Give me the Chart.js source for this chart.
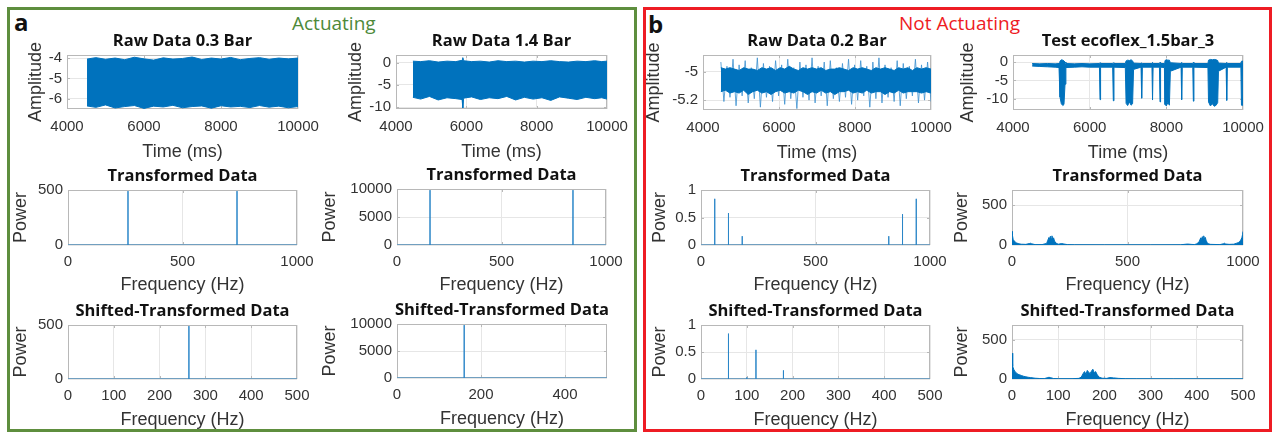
<!DOCTYPE html>
<html><head><meta charset="utf-8">
<script src="https://cdn.jsdelivr.net/npm/chart.js@4.4.1/dist/chart.umd.min.js"></script>
<style>
html,body{margin:0;padding:0;background:#fff;}
body{width:1277px;height:434px;position:relative;overflow:hidden;}
.panel{position:absolute;box-sizing:border-box;}
#pa{left:7px;top:7px;width:630px;height:425px;border:3px solid #5e8e3e;}
#pb{left:643px;top:7px;width:629px;height:425px;border:3px solid #ee1c24;}
.lbl{position:absolute;font-family:"Open Sans",sans-serif;line-height:1;white-space:nowrap;}
canvas.cv{position:absolute;}
</style></head>
<body>
<div class="panel" id="pa"></div>
<div class="panel" id="pb"></div>
<div class="lbl" style="left:14px;top:10px;font-size:24px;font-weight:700;color:#111;">a</div>
<div class="lbl" style="left:648px;top:12px;font-size:24px;font-weight:700;color:#111;">b</div>
<div class="lbl" style="left:292px;top:14px;font-size:19px;color:#4e8a3a;">Actuating</div>
<div class="lbl" style="left:899px;top:14px;font-size:19px;color:#ee1c24;">Not Actuating</div>
<script>
// ---------- data ----------
const rawTimeTicks = [4000, 6000, 8000, 10000];

const raw03Time  = [4520,4750,5000,5250,5500,5750,6000,6250,6500,6750,7000,7250,7500,7750,8000,8250,8500,8750,9000,9250,9500,9750,10000];
const raw03Upper = [-4.05,-3.98,-4.06,-4.0,-4.08,-3.96,-4.04,-4.1,-3.99,-4.05,-4.02,-3.95,-4.07,-4.0,-4.05,-3.97,-4.08,-4.02,-3.98,-4.06,-4.0,-4.04,-4.0];
const raw03Lower = [-6.35,-6.42,-6.3,-6.45,-6.38,-6.33,-6.47,-6.36,-6.4,-6.32,-6.44,-6.38,-6.35,-6.46,-6.34,-6.4,-6.37,-6.43,-6.33,-6.41,-6.36,-6.44,-6.38];
const raw03YTicks = [-6, -5, -4];

const raw14Time  = [4480,4700,4950,5200,5450,5700,5880,5900,5920,6150,6400,6650,6900,7150,7400,7650,7900,8150,8400,8650,8900,9150,9400,9650,9850,10000];
const raw14Upper = [0.4,0.3,0.5,0.2,0.4,0.3,0.6,1.2,0.5,0.3,0.4,0.2,0.5,0.3,0.4,0.2,0.4,0.3,0.5,0.3,0.2,0.4,0.3,0.5,0.3,0.4];
const raw14Lower = [-7.8,-8.2,-7.6,-8.4,-7.9,-8.1,-8.3,-10.2,-8.0,-7.7,-8.3,-7.9,-8.1,-7.6,-8.4,-7.8,-8.2,-7.9,-8.5,-7.7,-8.0,-8.3,-7.8,-8.1,-7.9,-8.2];
const raw14YTicks = [-10, -5, 0];

// 0.2 Bar: dense core band plus the noisy excursions around it
const raw02Time  = [4470,4590,4710,4830,4950,5070,5190,5310,5430,5550,5670,5790,5910,6030,6150,6270,6390,6510,6630,6750,6870,6990,7110,7230,7350,7470,7590,7710,7830,7950,8070,8190,8310,8430,8550,8670,8790,8910,9030,9150,9270,9390,9510,9630,9750,9870,10000];
const raw02CoreUpper = [-4.97,-4.98,-4.97,-4.98,-4.99,-4.97,-4.98,-4.98,-4.99,-4.97,-4.98,-4.97,-4.99,-4.97,-4.98,-4.96,-4.98,-4.99,-4.97,-4.98,-4.97,-4.98,-4.97,-4.99,-4.98,-4.98,-4.97,-4.98,-4.99,-4.97,-4.98,-4.97,-4.98,-4.99,-4.97,-4.98,-4.97,-4.98,-4.99,-4.97,-4.98,-4.97,-4.99,-4.97,-4.98,-4.97,-4.98];
const raw02CoreLower = [-5.14,-5.13,-5.15,-5.14,-5.15,-5.13,-5.16,-5.14,-5.13,-5.15,-5.14,-5.16,-5.14,-5.13,-5.15,-5.14,-5.15,-5.13,-5.14,-5.16,-5.14,-5.15,-5.13,-5.15,-5.14,-5.16,-5.14,-5.14,-5.13,-5.15,-5.14,-5.15,-5.13,-5.15,-5.14,-5.14,-5.16,-5.14,-5.15,-5.13,-5.15,-5.14,-5.14,-5.14,-5.15,-5.14,-5.15];
const raw02NoiseTime = [4470,4550,4630,4710,4790,4870,4950,5030,5110,5190,5270,5350,5430,5510,5590,5670,5750,5830,5910,5990,6070,6150,6230,6310,6390,6470,6550,6630,6710,6790,6870,6950,7030,7110,7190,7270,7350,7430,7510,7590,7670,7750,7830,7910,7990,8070,8150,8230,8310,8390,8470,8550,8630,8710,8790,8870,8950,9030,9110,9190,9270,9350,9430,9510,9590,9670,9750,9830,9910,10000];
const raw02Noise = [-4.93,-5.21,-4.96,-5.18,-4.91,-5.24,-4.95,-5.17,-4.92,-5.22,-4.97,-5.19,-4.90,-5.25,-4.94,-5.18,-4.96,-5.21,-4.92,-5.17,-4.95,-5.23,-4.91,-5.19,-4.97,-5.26,-4.93,-5.18,-4.95,-5.20,-4.90,-5.22,-4.96,-5.17,-4.93,-5.24,-4.92,-5.19,-4.97,-5.21,-4.94,-5.18,-4.91,-5.23,-4.95,-5.20,-4.92,-5.17,-4.96,-5.25,-4.93,-5.19,-4.90,-5.22,-4.95,-5.18,-4.97,-5.21,-4.92,-5.24,-4.94,-5.19,-4.96,-5.17,-4.91,-5.22,-4.95,-5.20,-4.93,-5.21];
const raw02YTicks = [-5.2, -5];

const ecoTime  = [4500,4700,4900,5100,5200,5226,5260,5300,5330,5357,5380,5600,5800,6000,6255,6270,6285,6600,6617,6634,6930,6950,6990,7040,7080,7120,7145,7340,7357,7374,7625,7640,7655,7820,7835,7850,7950,7965,8000,8040,8080,8105,8385,8400,8415,8690,8705,8720,9085,9100,9150,9200,9250,9300,9340,9360,9560,9575,9590,9945,9960,9985,10000];
const ecoUpper = [-0.4,-0.5,-0.4,-0.5,-0.4,0.2,0.6,0.5,0.3,0.0,-0.4,-0.5,-0.4,-0.5,-0.4,-0.2,-0.4,-0.4,-0.2,-0.4,-0.4,0.3,0.5,0.4,0.6,0.3,-0.3,-0.4,-0.2,-0.4,-0.4,-0.1,-0.4,-0.4,-0.1,-0.4,-0.4,0.4,0.6,0.5,0.5,-0.2,-0.4,-0.1,-0.4,-0.4,-0.1,-0.4,-0.4,0.5,0.7,0.6,0.7,0.6,0.4,-0.3,-0.4,-0.1,-0.4,-0.4,0.2,0.3,-0.4];
const ecoLower = [-1.1,-1.2,-1.3,-1.4,-1.5,-9.5,-11.3,-11.8,-11.5,-6,-1.5,-1.4,-1.3,-1.4,-1.4,-10.2,-1.4,-1.4,-10.5,-1.4,-1.5,-11.2,-11.8,-10.8,-11.7,-11.3,-2.0,-1.4,-9.8,-1.4,-1.4,-10.3,-1.4,-1.4,-10.8,-1.4,-1.5,-11.5,-11.9,-11.0,-11.7,-2.5,-1.4,-10.2,-1.4,-1.4,-10.6,-1.4,-1.5,-10.8,-11.9,-11.3,-12.0,-11.7,-11.0,-2.5,-1.4,-10.4,-1.4,-1.4,-11.7,-11.8,-1.5];
const ecoYTicks = [-10, -5, 0];

const fft1000Ticks = [0, 500, 1000];
const fft500Ticks  = [0, 100, 200, 300, 400, 500];
const fft500TicksB = [0, 200, 400];

const tr03Freq = [262, 738];          const tr03Pow = [490, 490];
const tr14Freq = [158, 842];          const tr14Pow = [9800, 9800];
const tr02Freq = [60, 120, 180, 820, 880, 940];
const tr02Pow  = [0.84, 0.58, 0.16, 0.16, 0.56, 0.84];
const tr15Freq = [0,2,5,10,15,20,30,40,60,75,80,85,100,130,150,155,160,163,166,170,173,176,180,184,190,200,215,225,240,270,400,600,730,760,775,790,800,810,817,820,824,827,830,834,837,840,845,850,860,900,915,920,925,940,960,970,980,985,990,995,998,1000];
const tr15Pow  = [170,120,70,50,35,25,15,10,8,18,22,15,5,5,20,60,95,70,110,80,115,75,90,50,25,10,18,12,5,3,2,2,3,12,8,5,15,40,90,70,105,80,115,70,95,60,30,15,8,5,15,22,12,8,10,20,30,45,60,90,130,170];

const sh03Freq = [264];   const sh03Pow = [490];
const sh14Freq = [160];   const sh14Pow = [9800];
const sh02Freq = [60, 100, 120, 180];
const sh02Pow  = [0.84, 0.03, 0.54, 0.16];
const sh15Freq = [0,1,2,4,6,8,10,13,16,20,25,30,35,40,50,60,70,76,80,84,90,100,130,145,150,154,157,160,163,166,169,172,175,178,181,184,188,195,205,212,220,230,245,270,350,500];
const sh15Pow  = [330,240,160,120,100,85,75,60,55,45,35,28,22,18,10,6,5,15,22,16,6,4,4,8,25,70,95,60,110,85,70,100,125,80,95,60,25,10,8,18,14,8,4,3,2,2];

const yTicks500 = [0, 500];
const yTicks10k = [0, 5000, 10000];
const yTicks1   = [0, 0.5, 1];

// ---------- helpers ----------
const BLUE = '#0072BD', SPIKE = '#2b86c8', NOISE = '#3a8fcf';
const TXT = '#333333', GRID = '#e6e6e6', BOX = '#b8b8b8';
const xy = (xs, ys) => xs.map((x, i) => ({x, y: ys[i]}));
function spikeLine(freqs, pows, x0, x1) {
  const pts = [{x: x0, y: 0}];
  freqs.forEach((f, i) => { pts.push({x: f, y: 0}, {x: f, y: pows[i]}, {x: f, y: 0}); });
  pts.push({x: x1, y: 0});
  return pts;
}
function band(t, up, lo, color) {
  return [
    {data: xy(t, up), borderColor: color, borderWidth: 1, fill: false},
    {data: xy(t, lo), borderColor: color, borderWidth: 1, backgroundColor: color, fill: '-1'}
  ];
}

const boxPlugin = {
  id: 'matbox',
  beforeDatasetsDraw(ch) {
    const {ctx, chartArea: a, scales} = ch;
    ctx.save();
    ctx.strokeStyle = BOX; ctx.lineWidth = 1;
    ctx.strokeRect(a.left + 0.5, a.top + 0.5, a.width - 1, a.height - 1);
    ctx.beginPath();
    scales.x.ticks.forEach(tk => {
      const px = Math.round(scales.x.getPixelForValue(tk.value)) + 0.5;
      if (px <= a.left + 1 || px >= a.right - 1) return;
      ctx.moveTo(px, a.bottom); ctx.lineTo(px, a.bottom - 3);
      ctx.moveTo(px, a.top); ctx.lineTo(px, a.top + 3);
    });
    scales.y.ticks.forEach(tk => {
      const py = Math.round(scales.y.getPixelForValue(tk.value)) + 0.5;
      if (py <= a.top + 1 || py >= a.bottom - 1) return;
      ctx.moveTo(a.left, py); ctx.lineTo(a.left + 3, py);
      ctx.moveTo(a.right, py); ctx.lineTo(a.right - 3, py);
    });
    ctx.stroke();
    ctx.restore();
  },
  afterDraw(ch) {
    const {ctx, chartArea: a} = ch;
    const t = ch.options.plugins.matbox.title;
    ctx.save();
    ctx.font = 'bold 16.5px "Open Sans"';
    ctx.fillStyle = '#111';
    ctx.textAlign = 'center'; ctx.textBaseline = 'middle';
    ctx.fillText(t, (a.left + a.right) / 2, a.top - 14);
    ctx.restore();
  }
};

function mk(s) {
  const PL = 80, PT = 30, PR = 34, PB = 52;
  const [l, t, r, b] = s.rect;
  const c = document.createElement('canvas');
  c.className = 'cv';
  c.width = r - l + PL + PR; c.height = b - t + PT + PB;
  c.style.left = (l - PL) + 'px'; c.style.top = (t - PT) + 'px';
  document.body.appendChild(c);
  new Chart(c, {
    type: 'line',
    data: {datasets: s.datasets},
    options: {
      responsive: false, animation: false, devicePixelRatio: 1, events: [],
      layout: {padding: {left: 0, top: PT, right: PR, bottom: 0}},
      plugins: {legend: {display: false}, tooltip: {enabled: false}, title: {display: false},
                matbox: {title: s.title}},
      elements: {point: {radius: 0}, line: {tension: 0}},
      scales: {
        x: {
          type: 'linear', min: s.xmin, max: s.xmax,
          afterFit(sc) { sc.height = PB; sc.paddingLeft = 0; sc.paddingRight = 0; },
          afterBuildTicks(sc) { sc.ticks = s.xticks.map(v => ({value: v})); },
          grid: {color: GRID, drawTicks: false}, border: {display: false},
          ticks: {padding: s.xtp || 8, font: {family: 'Liberation Sans', size: 15}, color: TXT,
                  maxRotation: 0, autoSkip: false, callback: v => String(v)},
          title: {display: true, text: s.xlabel, color: TXT,
                  font: {family: 'Liberation Sans', size: 18}, padding: {top: 0, bottom: s.xlp}}
        },
        y: {
          type: 'linear', min: s.ymin, max: s.ymax,
          afterFit(sc) { sc.width = PL; sc.paddingTop = 0; sc.paddingBottom = 0; },
          afterBuildTicks(sc) { sc.ticks = s.yticks.map(v => ({value: v})); },
          grid: {color: GRID, drawTicks: false}, border: {display: false},
          ticks: {padding: 5, font: {family: 'Liberation Sans', size: 15}, color: TXT,
                  autoSkip: false, callback: v => String(v)},
          title: {display: true, text: s.ylabel, color: TXT,
                  font: {family: 'Liberation Sans', size: 18}, padding: {top: 69.2 - s.yd, bottom: 0}}
        }
      }
    },
    plugins: [boxPlugin]
  });
}

const thin = pts => ({data: pts, borderColor: SPIKE, borderWidth: 1, fill: false});
const area = pts => ({data: pts, borderColor: BLUE, borderWidth: 1, backgroundColor: BLUE, fill: 'origin'});

// Row 1: raw data
mk({title: 'Raw Data 0.3 Bar', rect: [67, 55, 298, 109], xmin: 4000, xmax: 10000, xticks: rawTimeTicks, xtp: 9, xlp: -1.5,
    ymin: -6.5, ymax: -3.85, yticks: raw03YTicks, xlabel: 'Time (ms)', ylabel: 'Amplitude', yd: 31,
    datasets: band(raw03Time, raw03Upper, raw03Lower, BLUE)});
mk({title: 'Raw Data 1.4 Bar', rect: [396, 55, 607, 109], xmin: 4000, xmax: 10000, xticks: rawTimeTicks, xtp: 9, xlp: -1.5,
    ymin: -10.45, ymax: 1.8, yticks: raw14YTicks, xlabel: 'Time (ms)', ylabel: 'Amplitude', yd: 40,
    datasets: band(raw14Time, raw14Upper, raw14Lower, BLUE)});
mk({title: 'Raw Data 0.2 Bar', rect: [703, 55, 931, 110], xmin: 4000, xmax: 10000, xticks: rawTimeTicks, xtp: 9, xlp: -1.5,
    ymin: -5.27, ymax: -4.88, yticks: raw02YTicks, xlabel: 'Time (ms)', ylabel: 'Amplitude', yd: 49,
    datasets: band(raw02Time, raw02CoreUpper, raw02CoreLower, BLUE)
      .concat([{data: xy(raw02NoiseTime, raw02Noise), borderColor: NOISE, borderWidth: 0.8, fill: false}])});
mk({title: 'Test ecoflex_1.5bar_3', rect: [1013, 55, 1243, 110], xmin: 4000, xmax: 10000, xticks: rawTimeTicks, xtp: 9, xlp: -1.5,
    ymin: -13, ymax: 1.9, yticks: ecoYTicks, xlabel: 'Time (ms)', ylabel: 'Amplitude', yd: 45,
    datasets: band(ecoTime, ecoUpper, ecoLower, BLUE)});

// Row 2: transformed
mk({title: 'Transformed Data', rect: [68, 190, 297, 245], xmin: 0, xmax: 1000, xticks: fft1000Ticks, xlp: 1,
    ymin: 0, ymax: 500, yticks: yTicks500, xlabel: 'Frequency (Hz)', ylabel: 'Power', yd: 47,
    datasets: [thin(spikeLine(tr03Freq, tr03Pow, 0, 1000))]});
mk({title: 'Transformed Data', rect: [397, 189, 606, 245], xmin: 0, xmax: 1000, xticks: fft1000Ticks, xlp: 1,
    ymin: 0, ymax: 10000, yticks: yTicks10k, xlabel: 'Frequency (Hz)', ylabel: 'Power', yd: 67,
    datasets: [thin(spikeLine(tr14Freq, tr14Pow, 0, 1000))]});
mk({title: 'Transformed Data', rect: [701, 190, 930, 245], xmin: 0, xmax: 1000, xticks: fft1000Ticks, xlp: 1,
    ymin: 0, ymax: 1, yticks: yTicks1, xlabel: 'Frequency (Hz)', ylabel: 'Power', yd: 41,
    datasets: [thin(spikeLine(tr02Freq, tr02Pow, 0, 1000))]});
mk({title: 'Transformed Data', rect: [1012, 190, 1243, 245], xmin: 0, xmax: 1000, xticks: fft1000Ticks, xlp: 1,
    ymin: 0, ymax: 690, yticks: yTicks500, xlabel: 'Frequency (Hz)', ylabel: 'Power', yd: 50,
    datasets: [area(xy(tr15Freq, tr15Pow))]});

// Row 3: shifted-transformed
mk({title: 'Shifted-Transformed Data', rect: [68, 325, 297, 379], xmin: 0, xmax: 500, xticks: fft500Ticks, xlp: 0,
    ymin: 0, ymax: 500, yticks: yTicks500, xlabel: 'Frequency (Hz)', ylabel: 'Power', yd: 47,
    datasets: [thin(spikeLine(sh03Freq, sh03Pow, 0, 500))]});
mk({title: 'Shifted-Transformed Data', rect: [397, 324, 607, 378], xmin: 0, xmax: 500, xticks: fft500TicksB, xlp: 0,
    ymin: 0, ymax: 10000, yticks: yTicks10k, xlabel: 'Frequency (Hz)', ylabel: 'Power', yd: 67,
    datasets: [thin(spikeLine(sh14Freq, sh14Pow, 0, 500))]});
mk({title: 'Shifted-Transformed Data', rect: [701, 325, 930, 379], xmin: 0, xmax: 500, xticks: fft500Ticks, xlp: 0,
    ymin: 0, ymax: 1, yticks: yTicks1, xlabel: 'Frequency (Hz)', ylabel: 'Power', yd: 41,
    datasets: [thin(spikeLine(sh02Freq, sh02Pow, 0, 500))]});
mk({title: 'Shifted-Transformed Data', rect: [1012, 325, 1243, 379], xmin: 0, xmax: 500, xticks: fft500Ticks, xlp: 0,
    ymin: 0, ymax: 690, yticks: yTicks500, xlabel: 'Frequency (Hz)', ylabel: 'Power', yd: 50,
    datasets: [area(xy(sh15Freq, sh15Pow))]});
</script>
</body></html>
